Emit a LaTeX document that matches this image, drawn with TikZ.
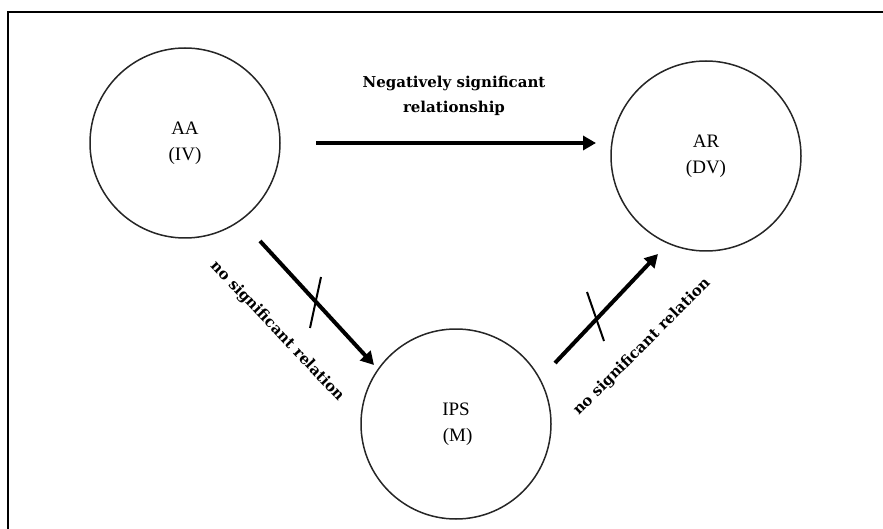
\documentclass[tikz,border=0pt]{standalone}
\usepackage{fontspec}
\newfontfamily\labfont{DejaVu Serif}
\newfontfamily\varfont{Liberation Serif}
\usetikzlibrary{arrows.meta}
\begin{document}
\begin{tikzpicture}[x=1pt,y=-1pt,
  var/.style={draw=black!85, line width=1.5pt, circle, minimum size=190pt, inner sep=0pt, align=center, font=\varfont\fontsize{19}{26}\selectfont},
  rel/.style={line width=4pt, -{Triangle[length=13pt,width=14pt]}},
  cross/.style={line width=2pt},
  lab/.style={font=\labfont\fontsize{15}{25}\selectfont\bfseries, align=center, inner sep=0pt}]
\useasboundingbox (0,0) rectangle (883,529);
\draw[line width=2.2pt] (8,529) -- (8,12) -- (883,12);
\node[var] (AA) at (185,143) {AA\\(IV)};
\node[var] (AR) at (706,156) {AR\\(DV)};
\node[var] (IPS) at (456,424) {IPS\\\,(M)};
\coordinate (h1) at (316,143);
\coordinate (h2) at (596,143);
\coordinate (d1) at (260,241);
\coordinate (d2) at (374,365);
\coordinate (e1) at (555,363);
\coordinate (e2) at (658,254);
\draw[rel] (h1) -- (h2);
\draw[rel] (d1) -- (d2);
\draw[rel] (e1) -- (e2);
\coordinate (c1a) at (321,277);
\coordinate (c1b) at (310,328);
\coordinate (c2a) at (587,292);
\coordinate (c2b) at (604,341);
\draw[cross] (c1a) -- (c1b);
\draw[cross] (c2a) -- (c2b);
\node[lab] (t1) at (454,96) {Negatively significant\\relationship};
\node[lab, rotate=-46.5] (t2) at (277,331) {no significant relation};
\node[lab, rotate=45] (t3) at (642,347) {no significant relation};
\end{tikzpicture}
\end{document}
